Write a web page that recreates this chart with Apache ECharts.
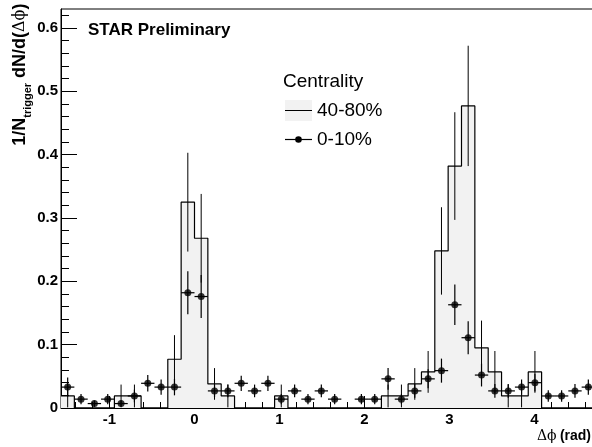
<!DOCTYPE html>
<html><head><meta charset="utf-8">
<script src="https://cdn.jsdelivr.net/npm/echarts@6/dist/echarts.min.js"></script>
<style>html,body{margin:0;padding:0;background:#fff}#c{width:592px;height:447px}</style>
</head><body><div id="c"></div>
<script>
// Binning: 40 bins over [-pi/2, 3pi/2]
const PHI_MIN = -Math.PI / 2;
const PHI_MAX = 3 * Math.PI / 2;
const NBINS = 40;

// 40-80% centrality (histogram)
const hist4080 = [0.019, 0, 0, 0, 0.019, 0.019, 0, 0, 0.077, 0.325,
                  0.268, 0.038, 0.019, 0, 0, 0, 0.019, 0, 0, 0,
                  0, 0, 0, 0, 0.019, 0.019, 0.038, 0.057, 0.248, 0.382,
                  0.477, 0.095, 0.057, 0.019, 0.019, 0.057, 0, 0, 0, 0];
const hist4080Err = [0.018, 0, 0, 0, 0.018, 0.018, 0, 0, 0.038, 0.078,
                     0.070, 0.025, 0.018, 0, 0, 0, 0.018, 0, 0, 0,
                     0, 0, 0, 0, 0.018, 0.018, 0.025, 0.033, 0.069, 0.085,
                     0.095, 0.043, 0.033, 0.018, 0.018, 0.033, 0, 0, 0, 0];

// 0-10% centrality (points)
const pts010 = [0.033, 0.014, 0.007, 0.014, 0.007, 0.019, 0.039, 0.033, 0.033, 0.182,
                0.176, 0.027, 0.027, 0.039, 0.027, 0.039, 0.014, 0.027, 0.014, 0.027,
                0.014, null, 0.014, 0.014, 0.046, 0.014, 0.027, 0.046, 0.059, 0.163,
                0.111, 0.052, 0.027, 0.027, 0.033, 0.040, 0.019, 0.019, 0.027, 0.033];
const pts010Err = [0.015, 0.008, 0.005, 0.008, 0.005, 0.010, 0.013, 0.012, 0.013, 0.034,
                   0.034, 0.010, 0.010, 0.012, 0.010, 0.012, 0.008, 0.010, 0.008, 0.010,
                   0.008, 0, 0.008, 0.008, 0.017, 0.008, 0.011, 0.015, 0.019, 0.032,
                   0.026, 0.018, 0.011, 0.011, 0.012, 0.014, 0.009, 0.009, 0.011, 0.012];

// Tick labels
const xMajorTicks = [-1, 0, 1, 2, 3, 4];
const yMajorTicks = [0, 0.1, 0.2, 0.3, 0.4, 0.5, 0.6];

const binW = (PHI_MAX - PHI_MIN) / NBINS;
const edges = [];
for (let k = 0; k <= NBINS; k++) edges.push(PHI_MIN + k * binW);
const centers = [];
for (let k = 0; k < NBINS; k++) centers.push(PHI_MIN + (k + 0.5) * binW);

const xMinorTicks = [];
for (let i = -7; i <= 23; i++) { if (i % 5 !== 0) xMinorTicks.push(+(i * 0.2).toFixed(2)); }
const yMinorTicks = [];
for (let i = 1; i <= 31; i++) { if (i % 5 !== 0) yMinorTicks.push(+(i * 0.02).toFixed(2)); }

const histLineData = edges.map((e, i) => [e, hist4080[Math.min(i, NBINS - 1)]]);
const histErrData = centers.map((c, i) => [c, hist4080[i], hist4080Err[i]]);
const ptsData = [];
const ptsErrData = [];
centers.forEach((c, i) => {
  if (pts010[i] !== null) { ptsData.push([c, pts010[i]]); ptsErrData.push([c, pts010[i], pts010Err[i]]); }
});

const FONT = 'Liberation Sans';
const GREEK = 'DejaVu Serif';
const chart = echarts.init(document.getElementById('c'), null, {renderer: 'canvas'});
const labelStyle = {fontSize: 15, fontWeight: 'bold', fontFamily: FONT, color: '#000'};

chart.setOption({
  animation: false,
  backgroundColor: '#fff',
  grid: {left: 61, right: -3, top: 9, bottom: 39, show: true, borderColor: '#000', borderWidth: 1,
         backgroundColor: 'transparent', containLabel: false, outerBoundsMode: 'none'},
  xAxis: [
    {type: 'value', min: PHI_MIN, max: PHI_MAX, position: 'bottom',
     axisLine: {show: true, onZero: false, lineStyle: {color: '#000', width: 1}},
     axisTick: {show: true, inside: true, length: 12, customValues: xMajorTicks, lineStyle: {color: '#000', width: 1}},
     axisLabel: Object.assign({show: true, margin: 4, customValues: xMajorTicks}, labelStyle),
     splitLine: {show: false}},
    {type: 'value', min: PHI_MIN, max: PHI_MAX, position: 'bottom',
     axisLine: {show: false, onZero: false},
     axisTick: {show: true, inside: true, length: 6, customValues: xMinorTicks, lineStyle: {color: '#000', width: 1}},
     axisLabel: {show: false}, splitLine: {show: false}}
  ],
  yAxis: [
    {type: 'value', min: 0, max: 0.63, position: 'left',
     axisLine: {show: true, onZero: false, lineStyle: {color: '#000', width: 1}},
     axisTick: {show: true, inside: true, length: 16, customValues: yMajorTicks, lineStyle: {color: '#000', width: 1}},
     axisLabel: Object.assign({show: true, margin: 3, customValues: yMajorTicks,
       formatter: v => (v === 0 ? '0' : v.toFixed(1))}, labelStyle),
     splitLine: {show: false}},
    {type: 'value', min: 0, max: 0.63, position: 'left',
     axisLine: {show: false, onZero: false},
     axisTick: {show: true, inside: true, length: 8, customValues: yMinorTicks, lineStyle: {color: '#000', width: 1}},
     axisLabel: {show: false}, splitLine: {show: false}}
  ],
  series: [
    {name: '40-80%', type: 'line', xAxisIndex: 0, yAxisIndex: 0, step: 'end', symbol: 'none',
     data: histLineData, silent: true, z: 2,
     lineStyle: {color: '#000', width: 1.2},
     areaStyle: {color: '#f2f2f2', opacity: 1}},
    {name: 'histErr', type: 'custom', xAxisIndex: 0, yAxisIndex: 0, silent: true, z: 3, clip: false,
     data: histErrData,
     renderItem: function (params, api) {
       const x = api.value(0), y = api.value(1), e = api.value(2);
       if (!e) return null;
       const p1 = api.coord([x, y + e]), p2 = api.coord([x, y - e]);
       return {type: 'line', shape: {x1: p1[0], y1: p1[1], x2: p2[0], y2: p2[1]},
               style: {stroke: '#000', lineWidth: 1}};
     }},
    {name: 'ptsErr', type: 'custom', xAxisIndex: 0, yAxisIndex: 0, silent: true, z: 4, clip: false,
     data: ptsErrData,
     renderItem: function (params, api) {
       const x = api.value(0), y = api.value(1), e = api.value(2);
       const a = api.coord([x, y + e]), b = api.coord([x, y - e]);
       const l = api.coord([x - binW / 2, y]), r = api.coord([x + binW / 2, y]);
       return {type: 'group', children: [
         {type: 'line', shape: {x1: a[0], y1: a[1], x2: b[0], y2: b[1]}, style: {stroke: '#000', lineWidth: 1.2}},
         {type: 'line', shape: {x1: l[0], y1: l[1], x2: r[0], y2: r[1]}, style: {stroke: '#000', lineWidth: 1.2}}
       ]};
     }},
    {name: '0-10%', type: 'scatter', xAxisIndex: 0, yAxisIndex: 0, silent: true, z: 5,
     symbol: 'circle', symbolSize: 7, data: ptsData,
     itemStyle: {color: '#000'}}
  ],
  graphic: [
    {type: 'text', x: 88, y: 30, z: 10,
     style: {text: 'STAR Preliminary', font: 'bold 17px "Liberation Sans"', fill: '#000', verticalAlign: 'middle'}},
    {type: 'text', x: 283, y: 82, z: 10,
     style: {text: 'Centrality', font: '19px "Liberation Sans"', fill: '#000', verticalAlign: 'middle'}},
    {type: 'rect', shape: {x: 285, y: 100, width: 27, height: 21}, style: {fill: '#f2f2f2'}, z: 10},
    {type: 'line', shape: {x1: 285, y1: 110.5, x2: 312, y2: 110.5}, style: {stroke: '#000', lineWidth: 1}, z: 11},
    {type: 'text', x: 317, y: 111, z: 10,
     style: {text: '40-80%', font: '19px "Liberation Sans"', fill: '#000', verticalAlign: 'middle'}},
    {type: 'line', shape: {x1: 285, y1: 139.5, x2: 312, y2: 139.5}, style: {stroke: '#000', lineWidth: 1.2}, z: 11},
    {type: 'circle', shape: {cx: 298.5, cy: 139.5, r: 3.3}, style: {fill: '#000'}, z: 12},
    {type: 'text', x: 317, y: 140, z: 10,
     style: {text: '0-10%', font: '19px "Liberation Sans"', fill: '#000', verticalAlign: 'middle'}},
    {type: 'text', x: 20, y: 3.5, rotation: Math.PI / 2, z: 10,
     style: {text: '{b|1/N}{s|trigger}{b| dN/d(}{g|Δϕ}{b|)}', align: 'right', verticalAlign: 'middle',
       rich: {
         b: {fontSize: 18, fontWeight: 'bold', fontFamily: FONT, lineHeight: 27, fill: '#000'},
         s: {fontSize: 11, fontWeight: 'bold', fontFamily: FONT, lineHeight: 11, verticalAlign: 'bottom', fill: '#000'},
         g: {fontSize: 16, fontFamily: GREEK, lineHeight: 27, fill: '#000'}
       }}},
    {type: 'text', x: 591, y: 436, z: 10,
     style: {text: '{g|Δϕ} {b|(rad)}', align: 'right', verticalAlign: 'middle',
       rich: {
         g: {fontSize: 14, fontFamily: GREEK, fill: '#000'},
         b: {fontSize: 14, fontWeight: 'bold', fontFamily: FONT, fill: '#000'}
       }}}
  ]
});
</script>
</body></html>
